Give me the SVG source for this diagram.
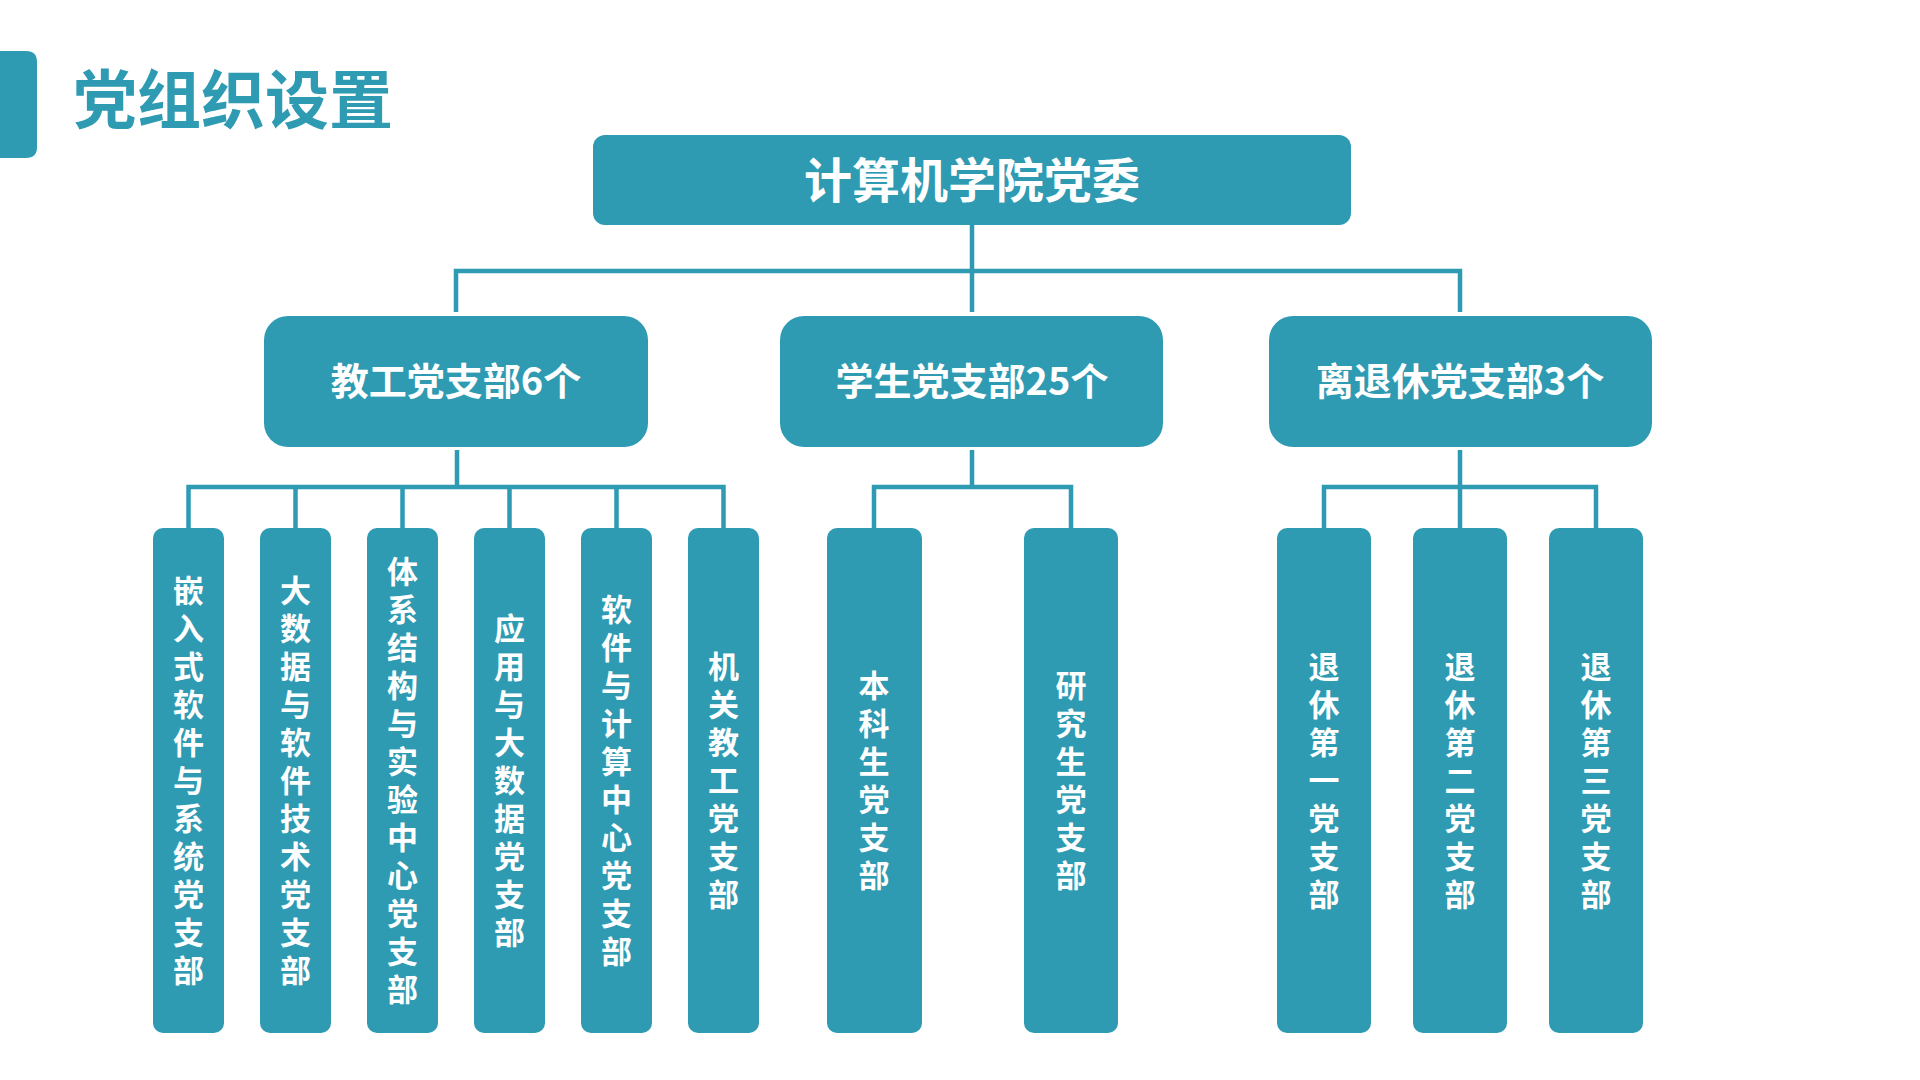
<svg xmlns="http://www.w3.org/2000/svg" width="1920" height="1080" viewBox="0 0 1920 1080">
<style>
.box{fill:#2E9BB3}
.t{fill:#fff;font-family:"Noto Sans CJK SC","Noto Sans",sans-serif;font-weight:700;text-anchor:middle;dominant-baseline:central}
.v{fill:#fff;font-family:"Noto Sans CJK SC","Noto Sans",sans-serif;font-weight:700;font-size:31px;writing-mode:vertical-rl;text-anchor:middle;letter-spacing:7px}
.c{fill:none;stroke:#2E9BB3;stroke-width:4.5}
</style>
<rect width="1920" height="1080" fill="#fff"/>
<g id="title">
<path d="M0,51 H26 Q37,51 37,62 V147 Q37,158 26,158 H0 Z" class="box"/>
<text x="73" y="95" font-family="Noto Sans CJK SC,sans-serif" font-weight="700" font-size="64" fill="#2E9BB3" dominant-baseline="central">党组织设置</text>
</g>
<g id="connectors">
<path class="c" d="M972,225 V312 M456,312 V271 H1460 V312"/>
<path class="c" d="M457,450 V487 M188.5,528 V487 H723.5 V528 M295.5,487 V528 M402.5,487 V528 M509.5,487 V528 M616.5,487 V528"/>
<path class="c" d="M972,450 V487 M874,528 V487 H1071 V528"/>
<path class="c" d="M1460,450 V528 M1324,528 V487 H1596 V528"/>
</g>
<g id="root"><rect class="box" x="593" y="135" width="758" height="90" rx="12"/><text class="t" x="972" y="177" font-size="48">计算机学院党委</text></g>
<g id="teach"><rect class="box" x="264" y="316" width="384" height="131" rx="24"/><text class="t" x="456" y="378" font-size="38">教工党支部6个</text></g>
<g id="student"><rect class="box" x="780" y="316" width="383" height="131" rx="24"/><text class="t" x="972" y="378" font-size="38">学生党支部25个</text></g>
<g id="retired"><rect class="box" x="1269" y="316" width="383" height="131" rx="24"/><text class="t" x="1460" y="378" font-size="38">离退休党支部3个</text></g>
<g id="leaf1"><rect class="box" x="153" y="528" width="71" height="505" rx="10"/><text class="v" x="188.5" y="784">嵌入式软件与系统党支部</text></g>
<g id="leaf2"><rect class="box" x="260" y="528" width="71" height="505" rx="10"/><text class="v" x="295.5" y="784">大数据与软件技术党支部</text></g>
<g id="leaf3"><rect class="box" x="367" y="528" width="71" height="505" rx="10"/><text class="v" x="402.5" y="784">体系结构与实验中心党支部</text></g>
<g id="leaf4"><rect class="box" x="474" y="528" width="71" height="505" rx="10"/><text class="v" x="509.5" y="784">应用与大数据党支部</text></g>
<g id="leaf5"><rect class="box" x="581" y="528" width="71" height="505" rx="10"/><text class="v" x="616.5" y="784">软件与计算中心党支部</text></g>
<g id="leaf6"><rect class="box" x="688" y="528" width="71" height="505" rx="10"/><text class="v" x="723.5" y="784">机关教工党支部</text></g>
<g id="leaf7"><rect class="box" x="827" y="528" width="95" height="505" rx="10"/><text class="v" x="874" y="784">本科生党支部</text></g>
<g id="leaf8"><rect class="box" x="1024" y="528" width="94" height="505" rx="10"/><text class="v" x="1071" y="784">研究生党支部</text></g>
<g id="leaf9"><rect class="box" x="1277" y="528" width="94" height="505" rx="10"/><text class="v" x="1324" y="784">退休第一党支部</text></g>
<g id="leaf10"><rect class="box" x="1413" y="528" width="94" height="505" rx="10"/><text class="v" x="1460" y="784">退休第二党支部</text></g>
<g id="leaf11"><rect class="box" x="1549" y="528" width="94" height="505" rx="10"/><text class="v" x="1596" y="784">退休第三党支部</text></g>
</svg>
